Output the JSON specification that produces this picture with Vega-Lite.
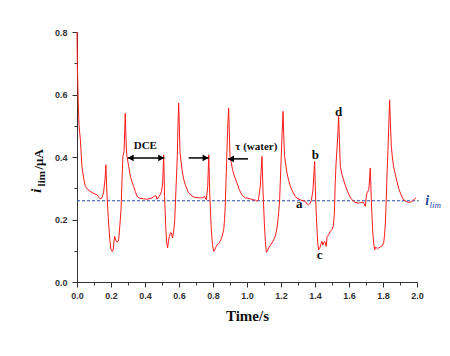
{
  "$schema": "https://vega.github.io/schema/vega-lite/v6.json",
  "width": 340,
  "height": 250,
  "autosize": {"type": "none"},
  "padding": {"left": 77, "top": 32, "right": 33, "bottom": 74},
  "background": "white",
  "config": {
    "view": {"stroke": null},
    "axis": {
      "grid": false,
      "domainColor": "#333333",
      "tickColor": "#333333",
      "labelColor": "#333333",
      "labelFont": "Liberation Sans",
      "labelFontWeight": "bold",
      "labelFontSize": 9
    }
  },
  "resolve": {"axis": {"x": "independent", "y": "independent"}},
  "datasets": {
    "curve": [
      {"t":0.0,"i":0.8},{"t":0.002,"i":0.70},{"t":0.004,"i":0.65},{"t":0.008,"i":0.56},{"t":0.012,"i":0.50},{"t":0.02,"i":0.455},{"t":0.029,"i":0.37},{"t":0.04,"i":0.33},{"t":0.049,"i":0.306},{"t":0.065,"i":0.295},{"t":0.078,"i":0.29},{"t":0.1,"i":0.283},{"t":0.118,"i":0.279},{"t":0.13,"i":0.27},{"t":0.137,"i":0.266},{"t":0.145,"i":0.268},{"t":0.156,"i":0.285},{"t":0.165,"i":0.33},{"t":0.17,"i":0.375},{"t":0.174,"i":0.31},{"t":0.178,"i":0.263},{"t":0.186,"i":0.189},{"t":0.194,"i":0.13},{"t":0.2,"i":0.103},{"t":0.206,"i":0.098},{"t":0.212,"i":0.10},{"t":0.221,"i":0.146},{"t":0.226,"i":0.14},{"t":0.231,"i":0.13},{"t":0.238,"i":0.128},{"t":0.245,"i":0.135},{"t":0.252,"i":0.18},{"t":0.259,"i":0.231},{"t":0.265,"i":0.33},{"t":0.27,"i":0.402},{"t":0.277,"i":0.418},{"t":0.281,"i":0.49},{"t":0.284,"i":0.54},{"t":0.287,"i":0.48},{"t":0.29,"i":0.43},{"t":0.294,"i":0.402},{"t":0.304,"i":0.37},{"t":0.314,"i":0.338},{"t":0.324,"i":0.32},{"t":0.333,"i":0.306},{"t":0.343,"i":0.29},{"t":0.353,"i":0.274},{"t":0.37,"i":0.268},{"t":0.392,"i":0.266},{"t":0.415,"i":0.265},{"t":0.441,"i":0.269},{"t":0.455,"i":0.275},{"t":0.465,"i":0.276},{"t":0.47,"i":0.265},{"t":0.478,"i":0.27},{"t":0.49,"i":0.28},{"t":0.497,"i":0.29},{"t":0.504,"i":0.317},{"t":0.51,"i":0.407},{"t":0.515,"i":0.274},{"t":0.523,"i":0.167},{"t":0.528,"i":0.125},{"t":0.533,"i":0.109},{"t":0.538,"i":0.13},{"t":0.543,"i":0.146},{"t":0.55,"i":0.158},{"t":0.555,"i":0.157},{"t":0.562,"i":0.141},{"t":0.568,"i":0.16},{"t":0.574,"i":0.189},{"t":0.578,"i":0.24},{"t":0.582,"i":0.295},{"t":0.59,"i":0.402},{"t":0.594,"i":0.5},{"t":0.598,"i":0.573},{"t":0.602,"i":0.5},{"t":0.606,"i":0.413},{"t":0.618,"i":0.359},{"t":0.627,"i":0.33},{"t":0.637,"i":0.311},{"t":0.656,"i":0.285},{"t":0.67,"i":0.278},{"t":0.686,"i":0.272},{"t":0.705,"i":0.27},{"t":0.725,"i":0.269},{"t":0.74,"i":0.27},{"t":0.751,"i":0.274},{"t":0.761,"i":0.263},{"t":0.769,"i":0.306},{"t":0.775,"i":0.407},{"t":0.78,"i":0.295},{"t":0.785,"i":0.23},{"t":0.79,"i":0.167},{"t":0.797,"i":0.12},{"t":0.804,"i":0.098},{"t":0.81,"i":0.102},{"t":0.815,"i":0.11},{"t":0.824,"i":0.119},{"t":0.835,"i":0.126},{"t":0.843,"i":0.13},{"t":0.853,"i":0.145},{"t":0.863,"i":0.167},{"t":0.868,"i":0.2},{"t":0.872,"i":0.242},{"t":0.878,"i":0.349},{"t":0.886,"i":0.487},{"t":0.892,"i":0.557},{"t":0.896,"i":0.48},{"t":0.9,"i":0.402},{"t":0.908,"i":0.38},{"t":0.915,"i":0.359},{"t":0.928,"i":0.335},{"t":0.941,"i":0.317},{"t":0.955,"i":0.295},{"t":0.97,"i":0.279},{"t":0.99,"i":0.269},{"t":1.0,"i":0.269},{"t":1.02,"i":0.266},{"t":1.039,"i":0.263},{"t":1.05,"i":0.262},{"t":1.059,"i":0.258},{"t":1.068,"i":0.265},{"t":1.078,"i":0.306},{"t":1.088,"i":0.402},{"t":1.094,"i":0.295},{"t":1.102,"i":0.189},{"t":1.108,"i":0.13},{"t":1.114,"i":0.095},{"t":1.12,"i":0.1},{"t":1.127,"i":0.109},{"t":1.137,"i":0.117},{"t":1.147,"i":0.125},{"t":1.157,"i":0.135},{"t":1.166,"i":0.146},{"t":1.174,"i":0.165},{"t":1.18,"i":0.189},{"t":1.186,"i":0.22},{"t":1.192,"i":0.263},{"t":1.2,"i":0.381},{"t":1.206,"i":0.47},{"t":1.212,"i":0.546},{"t":1.216,"i":0.47},{"t":1.221,"i":0.402},{"t":1.228,"i":0.375},{"t":1.235,"i":0.349},{"t":1.245,"i":0.325},{"t":1.255,"i":0.306},{"t":1.27,"i":0.288},{"t":1.284,"i":0.274},{"t":1.3,"i":0.266},{"t":1.314,"i":0.263},{"t":1.33,"i":0.26},{"t":1.343,"i":0.258},{"t":1.352,"i":0.25},{"t":1.362,"i":0.247},{"t":1.372,"i":0.252},{"t":1.38,"i":0.265},{"t":1.388,"i":0.295},{"t":1.394,"i":0.35},{"t":1.398,"i":0.386},{"t":1.401,"i":0.32},{"t":1.404,"i":0.263},{"t":1.408,"i":0.21},{"t":1.412,"i":0.167},{"t":1.416,"i":0.125},{"t":1.421,"i":0.103},{"t":1.428,"i":0.108},{"t":1.434,"i":0.12},{"t":1.441,"i":0.13},{"t":1.447,"i":0.118},{"t":1.451,"i":0.125},{"t":1.458,"i":0.13},{"t":1.466,"i":0.114},{"t":1.471,"i":0.145},{"t":1.48,"i":0.151},{"t":1.49,"i":0.162},{"t":1.5,"i":0.168},{"t":1.508,"i":0.18},{"t":1.514,"i":0.22},{"t":1.519,"i":0.317},{"t":1.524,"i":0.38},{"t":1.529,"i":0.423},{"t":1.534,"i":0.47},{"t":1.539,"i":0.53},{"t":1.544,"i":0.45},{"t":1.549,"i":0.37},{"t":1.558,"i":0.345},{"t":1.568,"i":0.327},{"t":1.578,"i":0.31},{"t":1.588,"i":0.295},{"t":1.603,"i":0.275},{"t":1.618,"i":0.263},{"t":1.632,"i":0.256},{"t":1.647,"i":0.253},{"t":1.662,"i":0.253},{"t":1.672,"i":0.254},{"t":1.682,"i":0.256},{"t":1.69,"i":0.25},{"t":1.696,"i":0.242},{"t":1.701,"i":0.27},{"t":1.706,"i":0.285},{"t":1.716,"i":0.295},{"t":1.72,"i":0.32},{"t":1.725,"i":0.365},{"t":1.728,"i":0.32},{"t":1.731,"i":0.263},{"t":1.739,"i":0.167},{"t":1.745,"i":0.125},{"t":1.751,"i":0.103},{"t":1.757,"i":0.112},{"t":1.763,"i":0.108},{"t":1.768,"i":0.106},{"t":1.774,"i":0.109},{"t":1.784,"i":0.112},{"t":1.794,"i":0.115},{"t":1.804,"i":0.125},{"t":1.809,"i":0.15},{"t":1.814,"i":0.189},{"t":1.819,"i":0.26},{"t":1.824,"i":0.349},{"t":1.829,"i":0.42},{"t":1.833,"i":0.487},{"t":1.839,"i":0.583},{"t":1.844,"i":0.5},{"t":1.849,"i":0.434},{"t":1.855,"i":0.4},{"t":1.862,"i":0.37},{"t":1.872,"i":0.345},{"t":1.882,"i":0.322},{"t":1.892,"i":0.3},{"t":1.902,"i":0.285},{"t":1.912,"i":0.272},{"t":1.921,"i":0.263},{"t":1.936,"i":0.258},{"t":1.951,"i":0.255},{"t":1.965,"i":0.256},{"t":1.975,"i":0.26},{"t":1.985,"i":0.266},{"t":1.994,"i":0.269}
    ],
    "limit": [{"x": 0, "x2": 2.01, "y": 0.26}],
    "arrows": [
      {"x": 0.298, "x2": 0.513, "y": 0.397},
      {"x": 0.657, "x2": 0.774, "y": 0.397},
      {"x": 0.888, "x2": 1.006, "y": 0.394}
    ],
    "heads": [
      {"x": 0.316, "y": 0.397, "dir": "left"},
      {"x": 0.495, "y": 0.397, "dir": "right"},
      {"x": 0.756, "y": 0.397, "dir": "right"},
      {"x": 0.906, "y": 0.394, "dir": "left"}
    ],
    "letters": [
      {"x": 1.308, "y": 0.25, "label": "a"},
      {"x": 1.402, "y": 0.405, "label": "b"},
      {"x": 1.427, "y": 0.087, "label": "c"},
      {"x": 1.539, "y": 0.544, "label": "d"}
    ],
    "phases": [
      {"x": 0.402, "y": 0.436, "label": "DCE"},
      {"x": 1.055, "y": 0.433, "label": "τ (water)"}
    ]
  },
  "layer": [
    {
      "data": {"name": "limit"},
      "mark": {"type": "rule", "color": "#2a48a0", "strokeWidth": 1, "strokeDash": [3, 2]},
      "encoding": {
        "x": {"field": "x", "type": "quantitative",
          "axis": {"orient": "bottom", "values": [0.1,0.3,0.5,0.7,0.9,1.1,1.3,1.5,1.7,1.9], "labels": false, "domain": false, "tickSize": 3, "title": null}},
        "x2": {"field": "x2"},
        "y": {"field": "y", "type": "quantitative",
          "axis": {"orient": "left", "values": [0.1,0.3,0.5,0.7], "labels": false, "domain": false, "tickSize": 3, "title": null}}
      }
    },
    {
      "data": {"name": "curve"},
      "mark": {"type": "line", "color": "#ff1a1a", "strokeWidth": 1},
      "encoding": {
        "x": {
          "field": "t", "type": "quantitative",
          "scale": {"domain": [0, 2], "nice": false},
          "axis": {
            "orient": "bottom",
            "values": [0,0.2,0.4,0.6,0.8,1.0,1.2,1.4,1.6,1.8,2.0],
            "format": ".1f",
            "tickSize": 5,
            "labelOverlap": false,
            "labelFlush": false,
            "labelPadding": 4,
            "title": "Time/s",
            "titleFont": "Liberation Serif",
            "titleFontWeight": "bold",
            "titleFontSize": 15,
            "titleColor": "#111111",
            "titlePadding": 8
          }
        },
        "y": {
          "field": "i", "type": "quantitative",
          "scale": {"domain": [0, 0.8], "nice": false},
          "axis": {
            "orient": "left",
            "values": [0,0.2,0.4,0.6,0.8],
            "format": ".1f",
            "tickSize": 5,
            "labelOverlap": false,
            "labelFlush": false,
            "labelPadding": 5,
            "title": null
          }
        }
      }
    },
    {
      "data": {"name": "arrows"},
      "mark": {"type": "rule", "color": "black", "strokeWidth": 1.5},
      "encoding": {
        "x": {"field": "x", "type": "quantitative", "axis": null},
        "x2": {"field": "x2"},
        "y": {"field": "y", "type": "quantitative", "axis": null}
      }
    },
    {
      "data": {"name": "heads"},
      "mark": {"type": "point", "filled": true, "color": "black", "opacity": 1, "size": 45},
      "encoding": {
        "x": {"field": "x", "type": "quantitative", "axis": null},
        "y": {"field": "y", "type": "quantitative", "axis": null},
        "shape": {"field": "dir", "type": "nominal", "scale": {"domain": ["left", "right"], "range": ["triangle-left", "triangle-right"]}, "legend": null}
      }
    },
    {
      "data": {"name": "letters"},
      "mark": {"type": "text", "font": "Liberation Serif", "fontWeight": "bold", "fontSize": 13, "color": "#111111", "baseline": "middle", "align": "center"},
      "encoding": {
        "x": {"field": "x", "type": "quantitative", "axis": null},
        "y": {"field": "y", "type": "quantitative", "axis": null},
        "text": {"field": "label"}
      }
    },
    {
      "data": {"name": "phases"},
      "mark": {"type": "text", "font": "Liberation Serif", "fontWeight": "bold", "fontSize": 11, "color": "#111111", "baseline": "middle", "align": "center"},
      "encoding": {
        "x": {"field": "x", "type": "quantitative", "axis": null},
        "y": {"field": "y", "type": "quantitative", "axis": null},
        "text": {"field": "label"}
      }
    },
    {
      "data": {"values": [{"x": -0.21, "y": 0.286, "label": "i"}]},
      "mark": {"type": "text", "font": "Liberation Serif", "fontWeight": "bold", "fontStyle": "italic", "fontSize": 15, "color": "#111111", "angle": 270, "align": "left", "baseline": "alphabetic"},
      "encoding": {
        "x": {"field": "x", "type": "quantitative", "axis": null},
        "y": {"field": "y", "type": "quantitative", "axis": null},
        "text": {"field": "label"}
      }
    },
    {
      "data": {"values": [{"x": -0.186, "y": 0.306, "label": "lim"}]},
      "mark": {"type": "text", "font": "Liberation Serif", "fontWeight": "bold", "fontSize": 11, "color": "#111111", "angle": 270, "align": "left", "baseline": "alphabetic"},
      "encoding": {
        "x": {"field": "x", "type": "quantitative", "axis": null},
        "y": {"field": "y", "type": "quantitative", "axis": null},
        "text": {"field": "label"}
      }
    },
    {
      "data": {"values": [{"x": -0.2, "y": 0.36, "label": "/μA"}]},
      "mark": {"type": "text", "font": "Liberation Serif", "fontWeight": "bold", "fontSize": 13, "color": "#111111", "angle": 270, "align": "left", "baseline": "alphabetic"},
      "encoding": {
        "x": {"field": "x", "type": "quantitative", "axis": null},
        "y": {"field": "y", "type": "quantitative", "axis": null},
        "text": {"field": "label"}
      }
    },
    {
      "data": {"values": [{"x": 2.048, "y": 0.247, "label": "i"}]},
      "mark": {"type": "text", "font": "Liberation Serif", "fontWeight": "bold", "fontStyle": "italic", "fontSize": 14, "color": "#2a48a0", "align": "left", "baseline": "alphabetic"},
      "encoding": {
        "x": {"field": "x", "type": "quantitative", "axis": null},
        "y": {"field": "y", "type": "quantitative", "axis": null},
        "text": {"field": "label"}
      }
    },
    {
      "data": {"values": [{"x": 2.074, "y": 0.238, "label": "lim"}]},
      "mark": {"type": "text", "font": "Liberation Serif", "fontStyle": "italic", "fontSize": 9, "color": "#2a48a0", "align": "left", "baseline": "alphabetic"},
      "encoding": {
        "x": {"field": "x", "type": "quantitative", "axis": null},
        "y": {"field": "y", "type": "quantitative", "axis": null},
        "text": {"field": "label"}
      }
    }
  ]
}
